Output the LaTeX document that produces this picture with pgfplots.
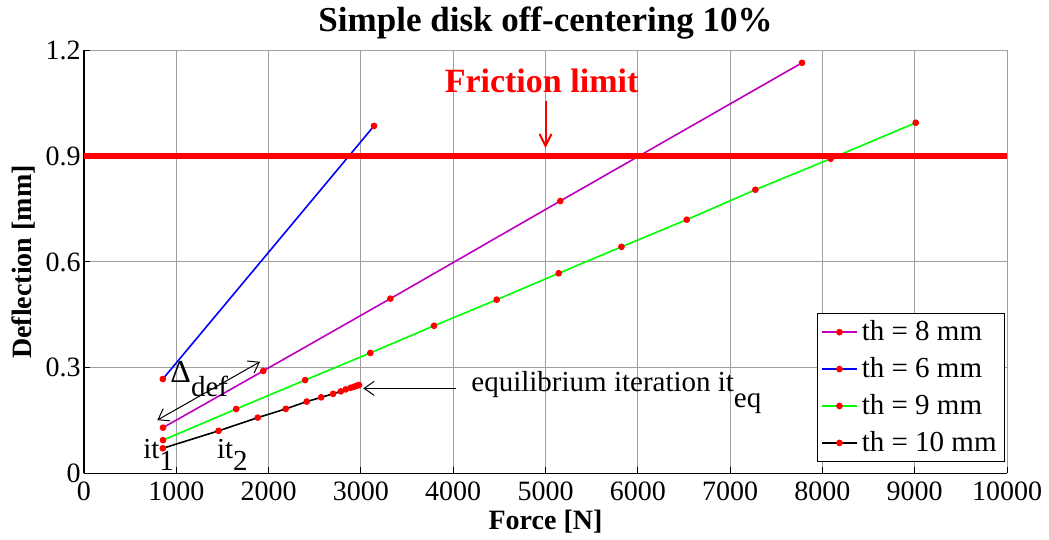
\documentclass[border=0pt]{standalone}
\usepackage{fontspec}
\setmainfont{Liberation Serif}
\usepackage{pgfplots}
\pgfplotsset{compat=1.18}
\usetikzlibrary{arrows.meta}
\definecolor{mag}{RGB}{191,0,191}
\definecolor{grn}{RGB}{0,255,0}
\definecolor{blu}{RGB}{0,0,255}
\begin{document}
\begin{tikzpicture}
\useasboundingbox (-42pt,-33pt) rectangle (482.5pt,236.75pt);
\begin{axis}[
  at={(0,0)}, anchor=south west,
  scale only axis, width=461.5pt, height=211.5pt,
  xmin=0, xmax=10000, ymin=0, ymax=1.2,
  clip=false,
  axis x line*=bottom, axis y line*=left,
  axis line style={black, line width=0.6pt, -},
  xtick={0,1000,2000,3000,4000,5000,6000,7000,8000,9000,10000},
  xticklabels={0,1000,2000,3000,4000,5000,6000,7000,8000,9000,10000},
  ytick={0,0.3,0.6,0.9,1.2},
  yticklabels={0,0.3,0.6,0.9,1.2},
  scaled x ticks=false, scaled y ticks=false,
  /pgf/number format/assume math mode=true,
  tick align=inside, major tick length=3pt,
  tick style={black, line width=0.5pt},
  grid=major, major grid style={gray!75, line width=0.5pt},
  ticklabel style={font=\fontsize{14}{16}\selectfont},
  xticklabel style={inner sep=1.5pt, yshift=-2.5pt},
  yticklabel style={inner sep=1.5pt},
  every axis title shift=0pt,
  title={Simple disk off-centering 10\%},
  title style={at={(axis description cs:0.5,1.065)}, anchor=center, font=\bfseries\fontsize{17.5}{20}\selectfont},
  xlabel={Force [N]},
  xlabel style={at={(axis description cs:0.5,-0.113)}, anchor=center, font=\bfseries\fontsize{14}{16}\selectfont},
  ylabel={Deflection [mm]},
  ylabel style={at={(axis description cs:-0.066,0.5)}, anchor=center, font=\bfseries\fontsize{14}{16}\selectfont},
  every axis plot/.append style={line width=0.8pt, mark=*, mark size=1.25pt, mark options={fill=red, draw=red, solid}},
  legend image code/.code={\draw[mark repeat=2,mark phase=2,#1] plot coordinates {(0pt,0pt) (8.75pt,0pt) (17.5pt,0pt)};},
  legend style={at={(rel axis cs:0.998,0.027)}, anchor=south east, font=\fontsize{14.5}{17}\selectfont, draw=black, line width=0.6pt, inner xsep=2pt, inner ysep=1.5pt, row sep=2.9pt, cells={anchor=west}},
]
\addplot[color=mag] coordinates {(856,0.130) (1942,0.291) (3319,0.496) (5160,0.773) (7779,1.165)};
\addlegendentry{th = 8 mm}
\addplot[color=blu] coordinates {(854,0.268) (3142,0.986)};
\addlegendentry{th = 6 mm}
\addplot[color=grn] coordinates {(856,0.0946) (1649,0.183) (2396,0.265) (3102,0.342) (3792,0.419) (4471,0.493) (5143,0.568) (5823,0.643) (6530,0.720) (7274,0.805) (8090,0.893) (9011,0.995)};
\addlegendentry{th = 9 mm}
\addplot[color=black] coordinates {(854,0.0715) (1458,0.121) (1883,0.1585) (2186,0.1833) (2413,0.204) (2569,0.216) (2699,0.226) (2782,0.233) (2836,0.2386) (2890,0.243) (2926,0.246) (2955,0.249) (2980,0.251)};
\addlegendentry{th = 10 mm}
\addplot[red, line width=3pt, mark=none, forget plot] coordinates {(0,0.9) (10000,0.9)};
\node[red, anchor=base, inner sep=0, font=\bfseries\fontsize{17}{20}\selectfont] at (axis cs:4957,1.080) {Friction limit};
\draw[red, line width=1pt, -{Straight Barb[length=6pt,width=6pt]}] (axis cs:5000,1.056) -- (axis cs:5000,0.923);
\draw[black, line width=0.5pt, {Straight Barb[length=5pt,width=7pt]}-{Straight Barb[length=5pt,width=7pt]}] (axis cs:794,0.1514) -- (axis cs:1907,0.317);
\node[anchor=base west, inner sep=0, font=\fontsize{14.5}{17}\selectfont] at (axis cs:932,0.259) {{\fontsize{16}{18}\selectfont Δ}\raisebox{-7pt}{def}};
\node[anchor=base west, inner sep=0, font=\fontsize{14.5}{17}\selectfont] at (axis cs:639,0.0435) {it\raisebox{-6pt}{1}};
\node[anchor=base west, inner sep=0, font=\fontsize{14.5}{17}\selectfont] at (axis cs:1438,0.0435) {it\raisebox{-6pt}{2}};
\node[anchor=base west, inner sep=0, font=\fontsize{14.5}{17}\selectfont] at (axis cs:4193,0.232) {equilibrium iteration it\raisebox{-8pt}{eq}};
\draw[black, line width=0.5pt, -{Straight Barb[length=5pt,width=7pt]}] (axis cs:4027,0.2415) -- (axis cs:3026,0.2415);
\end{axis}
\end{tikzpicture}
\end{document}
